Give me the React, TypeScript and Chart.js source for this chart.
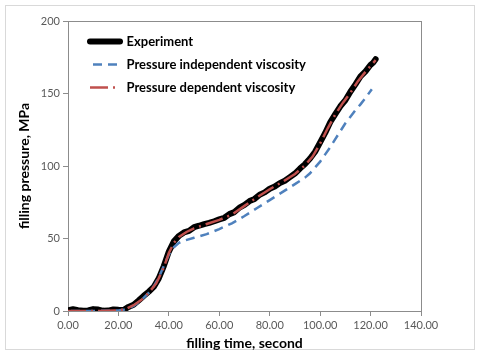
import React, { useEffect, useRef } from "react";
import { Chart, registerables } from "chart.js";

Chart.register(...registerables);

// Experiment (measured) filling pressure
const expTime = [0, 2, 4, 6, 8, 10, 12, 14, 16, 18, 20, 22, 24, 26, 28, 30, 32, 34, 36, 38, 40, 42, 44, 46, 48, 50, 52, 54, 56, 58, 60, 62, 64, 66, 68, 70, 72, 74, 76, 78, 80, 82, 84, 86, 88, 90, 92, 94, 96, 98, 100, 102, 104, 106, 108, 110, 112, 114, 116, 118, 120, 121, 122];
const expPressure = [0.5, 1.2, 0.6, 0.2, 0.4, 1.3, 1.0, 0.1, 0.3, 1.1, 0.8, 0.7, 2.8, 4.3, 7.2, 10.4, 13.3, 16.6, 22.5, 31, 41, 48, 51.8, 54.2, 55.3, 57.8, 58.8, 59.9, 60.8, 61.9, 63.2, 64.3, 66.8, 68.2, 71.3, 73.2, 75.8, 77.3, 80.2, 81.8, 84.3, 85.8, 88.2, 89.8, 92.3, 94.8, 98.2, 101.3, 105.2, 109.8, 116.3, 122.8, 130.2, 135.8, 141.2, 145.3, 151.2, 156.3, 161.8, 165.3, 169.8, 171.2, 173.6];

// Pressure independent viscosity simulation
const indepTime = [0, 10, 20, 22, 24, 26, 28, 30, 32, 34, 36, 38, 40, 42, 44, 46, 50, 55, 60, 65, 70, 75, 80, 85, 90, 94, 96, 98, 100, 102, 104, 106, 108, 110, 112, 114, 116, 118, 120.5];
const indepPressure = [0, 0, 0.3, 0.8, 2, 3.5, 6, 9, 12.5, 17, 23, 31, 39, 44, 47, 48.5, 50.5, 53, 56.5, 60.5, 65.5, 71, 76.5, 82, 87.5, 92, 95, 99, 103, 108, 113, 118.5, 124, 129.5, 134, 138.5, 142.5, 147, 153];

// Pressure dependent viscosity simulation
const depTime = [0, 10, 20, 23, 26, 29, 32, 35, 38, 40, 42, 44, 47, 50, 55, 60, 65, 70, 75, 80, 85, 90, 94, 97, 100, 103, 106, 109, 112, 115, 118, 121, 122];
const depPressure = [0, 0, 0.3, 1.5, 4, 7.5, 12.5, 19, 30, 40, 47, 51, 54.5, 57, 60, 62.8, 66.5, 72.5, 78.5, 84, 89, 94.5, 100.5, 106.5, 115.5, 126, 135.5, 143.5, 150.5, 158.5, 165, 171, 173];

const seriesNames = ["Experiment", "Pressure independent viscosity", "Pressure dependent viscosity"];
const xTickValues = [0, 20, 40, 60, 80, 100, 120, 140];
const yTickValues = [0, 50, 100, 150, 200];
const xTitle = "filling time, second";
const yTitle = "filling pressure, MPa";

const toPoints = (xs: number[], ys: number[]) => xs.map((x, i) => ({ x, y: ys[i] }));

const legendShift = {
  id: "legendShift",
  afterLayout(chart: any) {
    if (chart.legend) {
      chart.legend.left += 12;
      chart.legend.top += 25;
    }
  },
};

export default function App() {
  const ref = useRef<HTMLCanvasElement>(null);

  useEffect(() => {
    const axisGray = "#8c8c8c";
    const family = "Lato, 'Open Sans', sans-serif";
    const chart = new Chart(ref.current!, {
      type: "line",
      data: {
        datasets: [
          {
            label: seriesNames[0],
            data: toPoints(expTime, expPressure),
            borderColor: "#000000",
            backgroundColor: "#000000",
            borderWidth: 6,
            borderCapStyle: "round",
            borderJoinStyle: "round",
            pointRadius: 0,
            order: 3,
          },
          {
            label: seriesNames[1],
            data: toPoints(indepTime, indepPressure),
            borderColor: "#4f81bd",
            backgroundColor: "#4f81bd",
            borderWidth: 2.5,
            borderDash: [9, 6],
            borderDashOffset: 12,
            pointRadius: 0,
            order: 2,
          },
          {
            label: seriesNames[2],
            data: toPoints(depTime, depPressure),
            borderColor: "#c0504d",
            backgroundColor: "#c0504d",
            borderWidth: 2.5,
            borderDash: [18, 5, 2, 5],
            borderDashOffset: 0,
            pointRadius: 0,
            order: 1,
          },
        ],
      },
      options: {
        responsive: false,
        animation: false,
        devicePixelRatio: 1,
        layout: { padding: { left: 0, top: 21, right: 59, bottom: 0 } },
        font: { family },
        scales: {
          x: {
            type: "linear",
            min: 0,
            max: 140,
            afterBuildTicks: (s: any) => {
              s.ticks = xTickValues.map((v) => ({ value: v }));
            },
            afterFit: (s: any) => {
              s.height = 46;
            },
            ticks: {
              autoSkip: false,
              maxRotation: 0,
              color: "#595959",
              font: { family, size: 11 },
              padding: 3,
              callback: (v: any) => Number(v).toFixed(2),
            },
            grid: {
              drawOnChartArea: true,
              color: (c: any) => (c.tick && c.tick.value === 140 ? axisGray : "transparent"),
              tickColor: axisGray,
              tickLength: 5,
              lineWidth: 1,
            },
            border: { color: axisGray, width: 1 },
            title: {
              display: true,
              text: xTitle,
              color: "#000000",
              font: { family, size: 14, weight: "bold" },
              padding: { top: 0, bottom: 5 },
            },
          },
          y: {
            type: "linear",
            min: 0,
            max: 200,
            afterBuildTicks: (s: any) => {
              s.ticks = yTickValues.map((v) => ({ value: v }));
            },
            afterFit: (s: any) => {
              s.width = 68;
            },
            ticks: {
              color: "#595959",
              font: { family, size: 11 },
              padding: 3,
            },
            grid: {
              drawOnChartArea: true,
              color: (c: any) => (c.tick && c.tick.value === 200 ? axisGray : "transparent"),
              tickColor: axisGray,
              tickLength: 5,
              lineWidth: 1,
            },
            border: { color: axisGray, width: 1 },
            title: {
              display: true,
              text: yTitle,
              color: "#000000",
              font: { family, size: 14, weight: "bold" },
              padding: { top: 16, bottom: 0 },
            },
          },
        },
        plugins: {
          legend: {
            position: "chartArea",
            align: "start",
            labels: {
              usePointStyle: true,
              pointStyle: "line",
              pointStyleWidth: 30,
              boxHeight: 13,
              padding: 10,
              color: "#000000",
              font: { family, size: 13, weight: "bold" },
              sort: (a: any, b: any) => a.datasetIndex - b.datasetIndex,
              generateLabels: (ch: any) => {
                const items = (Chart as any).defaults.plugins.legend.labels.generateLabels(ch);
                return items.map((it: any) => {
                  const ds = ch.data.datasets[it.datasetIndex];
                  return {
                    ...it,
                    lineWidth: ds.borderWidth,
                    strokeStyle: ds.borderColor,
                    lineDash: ds.borderDash || [],
                    lineDashOffset: ds.borderDashOffset || 0,
                    lineCap: ds.borderCapStyle || "butt",
                    lineJoin: ds.borderJoinStyle || "miter",
                  };
                });
              },
            },
          },
          tooltip: { enabled: false },
        },
      } as any,
      plugins: [legendShift],
    });
    return () => chart.destroy();
  }, []);

  return (
    <div style={{ position: "absolute", left: 0, top: 0, width: 480, height: 357, background: "#ffffff" }}>
      <div
        style={{
          position: "absolute",
          left: 5,
          top: 5,
          width: 470,
          height: 345,
          boxSizing: "border-box",
          border: "1px solid #d9d9d9",
        }}
      />
      <canvas ref={ref} width={480} height={357} style={{ position: "absolute", left: 0, top: 0, display: "block" }} />
    </div>
  );
}
